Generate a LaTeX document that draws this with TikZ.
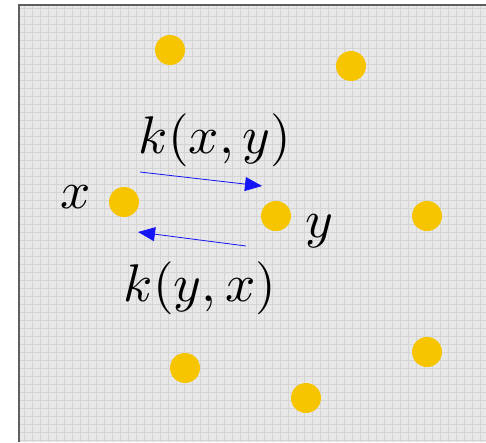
\documentclass[tikz,border=0pt]{standalone}
\usepackage{graphicx}
\usepackage{tikz}
\usetikzlibrary{arrows.meta,positioning}
\definecolor{dotyellow}{RGB}{247,196,0}
\definecolor{bggray}{RGB}{232,232,232}
\definecolor{gridgray}{RGB}{212,212,212}
\definecolor{framegray}{RGB}{95,95,95}
\definecolor{arrblue}{RGB}{20,20,245}
\newcommand{\biglbl}[1]{\scalebox{5.3}{#1}}

\begin{document}
\begin{tikzpicture}[x=1pt,y=-1pt,
  every node/.style={inner sep=0pt,outer sep=0pt},
  pt/.style={circle,fill=dotyellow,minimum size=30pt},
  kern/.style={draw=arrblue,line width=0.8pt,
    -{Triangle[length=17pt,width=14pt]}},
]
\useasboundingbox (0,0) rectangle (486,442);
\fill[bggray] (19,5) rectangle (486,442);
\draw[gridgray,line width=0.5pt,step=8pt] (19,5) grid (486,442);
\draw[framegray,line width=2pt] (19,442)--(19,5)--(486,5);

% points
\node[pt](P1)at(170,50){};
\node[pt](P2)at(351,66){};
\node[pt](X)at(124,202){};
\node[pt](Y)at(276,216){};
\node[pt](P3)at(427,216){};
\node[pt](P4)at(185,368){};
\node[pt](P5)at(427,352){};
\node[pt](P6)at(306,398){};

\node(Xl)at(76,197){\biglbl{$x$}};
\node(Yl)at(319,231){\biglbl{$y$}};

% kernel arrows
\coordinate(A1)at([shift={(16,-30)}]X.center);
\coordinate(B1)at([shift={(-14,-30)}]Y.center);
\coordinate(A2)at([shift={(-30,30)}]Y.center);
\coordinate(B2)at([shift={(14,30)}]X.center);
\draw[kern](A1)--(B1);
\draw[kern](A2)--(B2);

\node(Kxy)at(215,140){\biglbl{$k(x,y)$}};
\node(Kyx)at(200,288){\biglbl{$k(y,x)$}};
\end{tikzpicture}
\end{document}
